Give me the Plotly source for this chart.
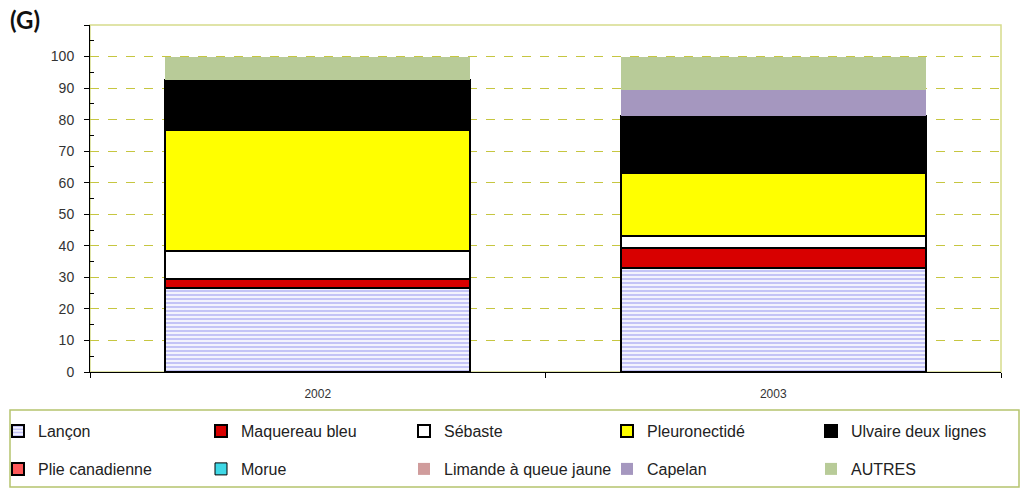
import plotly.graph_objects as go

years = ["2002", "2003"]

lancon = [26.7, 32.9]
maquereau = [2.7, 6.4]
sebaste = [9.0, 3.9]
pleuronectide = [38.2, 19.8]
ulvaire = [15.9, 18.3]
plie = [0, 0]
morue = [0, 0]
limande = [0, 0]
capelan = [0, 8.0]
autres = [7.5, 10.7]

y_ticks = [0, 10, 20, 30, 40, 50, 60, 70, 80, 90, 100, 110]
y_ticktext = ["0", "10", "20", "30", "40", "50", "60", "70", "80", "90", "100", ""]
y_minor = [5, 15, 25, 35, 45, 55, 65, 75, 85, 95, 105]

series = [
    ("Lançon", lancon, dict(color="white", line=dict(color="black", width=2),
                           pattern=dict(shape="-", fgcolor="#8a8aee", bgcolor="white", size=4, solidity=0.6)), "legend"),
    ("Maquereau bleu", maquereau, dict(color="#d80000", line=dict(color="black", width=2)), "legend"),
    ("Sébaste", sebaste, dict(color="white", line=dict(color="black", width=2)), "legend"),
    ("Pleuronectidé", pleuronectide, dict(color="#ffff00", line=dict(color="black", width=2)), "legend"),
    ("Ulvaire deux lignes", ulvaire, dict(color="#000000", line=dict(color="black", width=2)), "legend3"),
    ("Plie canadienne", plie, dict(color="#ff5a5a", line=dict(color="black", width=2)), "legend2"),
    ("Morue", morue, dict(color="#3fd8e6", line=dict(color="black", width=1)), "legend2"),
    ("Limande à queue jaune", limande, dict(color="#d09c9c", line=dict(width=0)), "legend2"),
    ("Capelan", capelan, dict(color="#a597bf", line=dict(width=0)), "legend2"),
    ("AUTRES", autres, dict(color="#b8cb98", line=dict(width=0)), "legend4"),
]

fig = go.Figure()
for name, vals, marker, lg in series:
    fig.add_trace(go.Bar(x=years, y=vals, name=name, marker=marker, legend=lg))

PL, PR, PT, PB = 90, 1001, 25, 372
W, H = 1021, 492

def px_x(p):
    return (p - PL) / (PR - PL)

def px_y(p):
    return (PB - p) / (PB - PT)

legend_common = dict(
    orientation="h", xanchor="left", yanchor="middle",
    xref="paper", yref="paper",
    font=dict(family="Liberation Sans, Arial", size=16, color="#222"),
    bgcolor="rgba(0,0,0,0)", borderwidth=0,
    entrywidth=158, entrywidthmode="pixels", traceorder="normal",
    itemclick=False, itemdoubleclick=False,
)

fig.update_layout(
    width=W, height=H,
    margin=dict(l=PL, r=W - PR, t=PT, b=H - PB, autoexpand=False),
    barmode="stack", bargap=0.33,
    plot_bgcolor="white", paper_bgcolor="white",
    font=dict(family="Liberation Sans, Arial", size=12, color="#333"),
    legend=dict(legend_common, x=px_x(-2), y=px_y(431)),
    legend2=dict(legend_common, x=px_x(-2), y=px_y(469)),
    legend3=dict(legend_common, x=px_x(811), y=px_y(431)),
    legend4=dict(legend_common, x=px_x(811), y=px_y(469)),
    xaxis=dict(
        type="category", showline=True, linecolor="black", linewidth=1,
        ticks="outside", tickson="boundaries", ticklen=5, tickcolor="black",
        tickfont=dict(size=12, color="#333"), showgrid=False,
        ticklabelstandoff=11,
    ),
    yaxis=dict(
        range=[0, 110], tickmode="array", tickvals=y_ticks, ticktext=y_ticktext,
        showline=True, linecolor="black", linewidth=1,
        ticks="outside", ticklen=5, tickcolor="black",
        tickfont=dict(size=14, color="#333"),
        ticklabelstandoff=7,
        showgrid=True, gridcolor="#c6c640", griddash="dash", gridwidth=1,
        zeroline=False,
        minor=dict(tickmode="array", tickvals=y_minor, ticks="inside", ticklen=4,
                   tickcolor="black", showgrid=False),
    ),
    shapes=[
        dict(type="rect", xref="paper", yref="paper", x0=0, x1=1, y0=0, y1=1,
             line=dict(color="#d6dc8c", width=1.5), layer="below"),
        dict(type="rect", xref="paper", yref="paper", x0=px_x(10), x1=px_x(1019),
             y0=px_y(487), y1=px_y(410), line=dict(color="#b5c46e", width=1.5), layer="below"),
    ],
    annotations=[
        dict(text="<b>(G)</b>", xref="paper", yref="paper", x=px_x(8), y=px_y(20),
             xanchor="left", yanchor="middle", showarrow=False,
             font=dict(family="Lato", size=24, color="#111")),
    ],
)

fig.write_html("out.html", config={"displayModeBar": False},
               post_script="document.body.style.margin='0';")
